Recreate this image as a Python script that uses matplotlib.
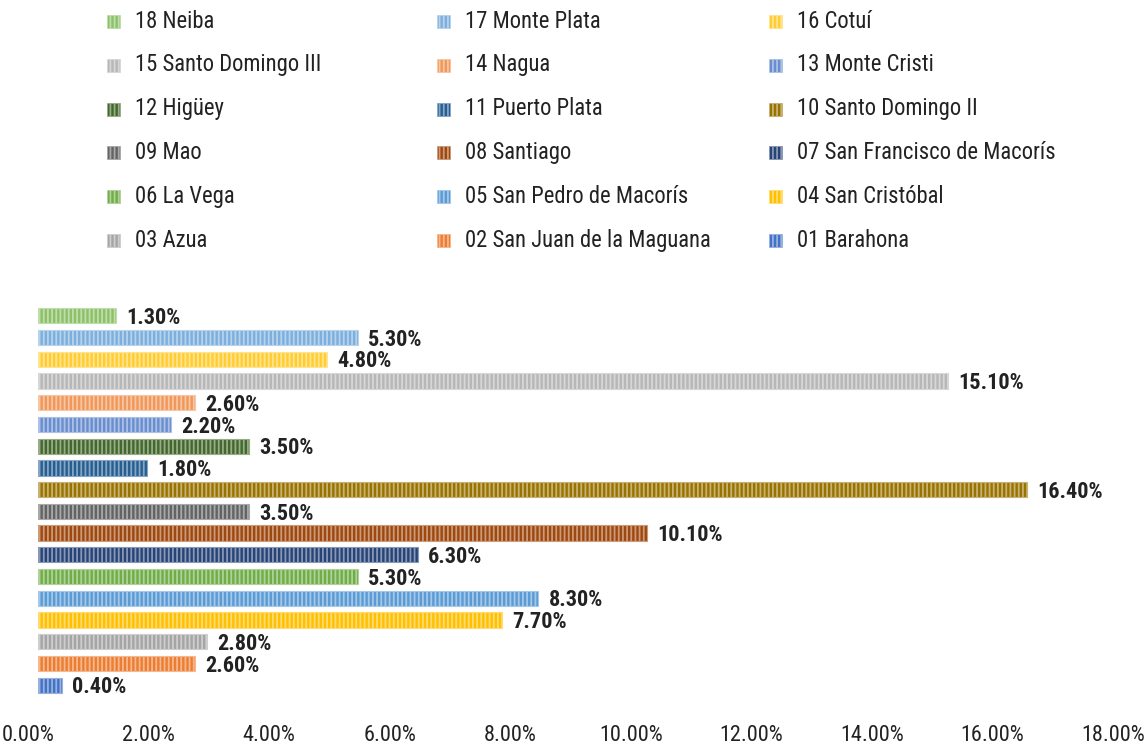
import matplotlib
matplotlib.use("Agg")
import matplotlib.pyplot as plt
from matplotlib.colors import to_rgb
from matplotlib.patches import Rectangle
from matplotlib.transforms import ScaledTranslation
import numpy as np

# data, top to bottom as drawn
regions = [
    "18 Neiba", "17 Monte Plata", "16 Cotuí", "15 Santo Domingo III", "14 Nagua",
    "13 Monte Cristi", "12 Higüey", "11 Puerto Plata", "10 Santo Domingo II", "09 Mao",
    "08 Santiago", "07 San Francisco de Macorís", "06 La Vega", "05 San Pedro de Macorís",
    "04 San Cristóbal", "03 Azua", "02 San Juan de la Maguana", "01 Barahona",
]
shares = [1.30, 5.30, 4.80, 15.10, 2.60, 2.20, 3.50, 1.80, 16.40, 3.50,
          10.10, 6.30, 5.30, 8.30, 7.70, 2.80, 2.60, 0.40]
colors = [
    "#8CC168", "#7CAFDD", "#FFCD33", "#B7B7B7", "#F1975A", "#698ED0",
    "#43682B", "#255E91", "#997300", "#636363", "#9E480E", "#264478",
    "#70AD47", "#5B9BD5", "#FFC000", "#A5A5A5", "#ED7D31", "#4472C4",
]
xticks = [0, 2, 4, 6, 8, 10, 12, 14, 16, 18]

plt.rcParams["font.family"] = ["Roboto Condensed", "DejaVu Sans"]
plt.rcParams["hatch.linewidth"] = 1.3


def light(c, f=0.45):
    r = np.array(to_rgb(c))
    return tuple(r + (1 - r) * f)


fig = plt.figure(figsize=(11.46, 7.5), dpi=100)
ax = fig.add_axes([0.0332, 0.072, 0.9468, 0.5213])

y = np.arange(len(shares))[::-1]
for yi, v, c in zip(y, shares, colors):
    ax.barh(yi, v, height=0.7, color=c, edgecolor=light(c), linewidth=0.8, hatch="||||")
    ax.text(v + 0.17, yi - 0.1, f"{v:.2f}%", va="center", ha="left",
            fontsize=16, fontweight="bold", color="#222222")

ax.set_xlim(0, 18)
ax.set_ylim(-0.5, len(shares) - 0.5)
ax.set_xticks(xticks)
ax.set_xticklabels([f"{t:.2f}%" for t in xticks])
ax.set_yticks([])
for s in ax.spines.values():
    s.set_visible(False)
ax.tick_params(axis="x", length=0, pad=21, labelsize=16, labelcolor="#222222")
shift = ScaledTranslation(-0.10, 0, fig.dpi_scale_trans)
for lab in ax.get_xticklabels():
    lab.set_transform(lab.get_transform() + shift)

# legend, 3 columns filled row by row
col_x = [107 / 1146, 437 / 1146, 769 / 1146]
row_y0, row_dy = 22, 43.8
for i, (name, c) in enumerate(zip(regions, colors)):
    r, k = divmod(i, 3)
    yc = 1 - (row_y0 + r * row_dy) / 750
    fig.add_artist(Rectangle((col_x[k], yc - 6 / 750), 13 / 1146, 13 / 750,
                             transform=fig.transFigure, facecolor=c,
                             edgecolor=light(c), linewidth=0.6, hatch="||||"))
    fig.text(col_x[k] + 28 / 1146, yc + 1 / 750, name, va="center", ha="left",
             fontsize=16.3, color="#222222")

fig.savefig("out.png", dpi=100)
